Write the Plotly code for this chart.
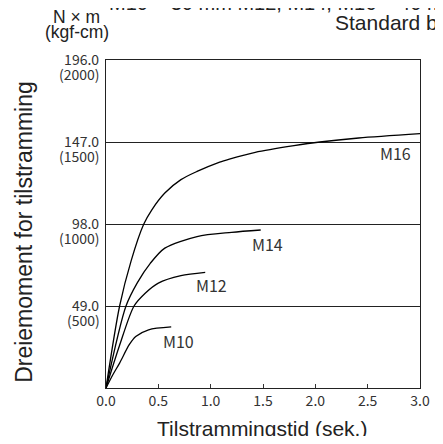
import plotly.graph_objects as go

# Tiltrekkingskurver (tid i sek., moment i N x m)
m16_t = [0, 0.13, 0.24, 0.36, 0.438, 0.562, 0.716, 0.870, 1.086, 1.179, 1.426, 1.796, 2.043, 2.414, 3.0]
m16_v = [0, 49.0, 76.0, 97.8, 106.5, 116.5, 124.5, 129.4, 135.0, 136.8, 140.8, 144.8, 147.0, 149.4, 152.0]
m14_t = [0, 0.191, 0.30, 0.423, 0.562, 0.870, 1.2, 1.478]
m14_v = [0, 49.0, 63.0, 74.5, 83.6, 90.5, 93.0, 94.4]
m12_t = [0, 0.13, 0.268, 0.377, 0.5, 0.716, 0.948]
m12_v = [0, 25.5, 49.0, 56.8, 62.7, 67.1, 69.1]
m10_t = [0, 0.068, 0.130, 0.222, 0.284, 0.407, 0.623]
m10_v = [0, 8.2, 14.9, 25.9, 30.8, 34.8, 36.5]

kurver = [("M16", m16_t, m16_v, 2.77, 140.4),
          ("M14", m14_t, m14_v, 1.54, 86.3),
          ("M12", m12_t, m12_v, 1.01, 61.8),
          ("M10", m10_t, m10_v, 0.69, 27.9)]

y_ticks = [49, 98, 147, 196]
y_nm = ["49.0", "98.0", "147.0", "196.0"]
y_kgf = ["(500)", "(1000)", "(1500)", "(2000)"]
x_ticks = [0, 0.5, 1.0, 1.5, 2.0, 2.5, 3.0]

tick_font = dict(family="Noto Sans CJK JP", size=14, color="#333")
tekst_font = dict(family="Liberation Sans", color="#222")
fig = go.Figure()

for navn, t, v, lx, ly in kurver:
    fig.add_trace(go.Scatter(x=t, y=v, mode="lines", line=dict(color="black", width=1.3, shape="spline", smoothing=0.8),
                             showlegend=False, hoverinfo="skip"))
    fig.add_annotation(x=lx, y=ly, text=navn, showarrow=False, font=dict(tick_font, size=16))

# kgf-cm under hver N x m-verdi
for v, k in zip(y_ticks, y_kgf):
    fig.add_annotation(xref="paper", yref="y", x=0, y=v, xanchor="right", yanchor="middle", xshift=-4, yshift=-13.5,
                       text=k, showarrow=False, font=tick_font)

# tekster over diagrammet
fig.add_annotation(xref="paper", yref="paper", x=-0.0926, y=1.132, xanchor="center", yanchor="middle",
                   text="N × m", showarrow=False, font=dict(tekst_font, size=17.5))
fig.add_annotation(xref="paper", yref="paper", x=-0.0926, y=1.0863, xanchor="center", yanchor="middle",
                   text="(kgf-cm)", showarrow=False, font=dict(tekst_font, size=17.5))
fig.add_annotation(xref="paper", yref="paper", x=0.722, y=1.1137, xanchor="left", yanchor="middle",
                   text="Standard bolts", showarrow=False, font=dict(tekst_font, size=21))
fig.add_annotation(xref="paper", yref="paper", x=0.003, y=1.134, xanchor="left", yanchor="bottom",
                   text="M10 × 30 mm M12, M14, M16 × 40 mm", showarrow=False, font=dict(tekst_font, size=20))
# aksetitler
fig.add_annotation(xref="paper", yref="paper", x=-0.2633, y=0.477, xanchor="center", yanchor="middle",
                   textangle=-90, text="Dreiemoment for tilstramming",
                   showarrow=False, font=dict(tekst_font, size=23))
fig.add_annotation(xref="paper", yref="paper", x=0.496, y=-0.122, xanchor="center", yanchor="middle",
                   text="Tilstrammingstid (sek.)", showarrow=False, font=dict(tekst_font, size=21))

# nettleseren legger 8 px marg rundt siden, derfor 427x428
fig.update_layout(
    width=427, height=428,
    margin=dict(l=98, r=5, t=52, b=48),
    plot_bgcolor="white", paper_bgcolor="white",
    xaxis=dict(range=[0, 3.0], tickvals=x_ticks, tickformat=".1f", ticks="inside", ticklen=4, tickcolor="#333",
               showgrid=False, zeroline=False, showline=True, linecolor="#222", linewidth=1.2, mirror=True,
               tickfont=tick_font, ticklabeloverflow="allow"),
    yaxis=dict(range=[0, 196], tickvals=y_ticks, ticktext=y_nm, ticks="", showgrid=True, gridcolor="#222",
               gridwidth=1.2, zeroline=False, showline=True, linecolor="#222", linewidth=1.2, mirror=True,
               tickfont=tick_font, ticklabelstandoff=3),
)

fig.write_html("out.html")
